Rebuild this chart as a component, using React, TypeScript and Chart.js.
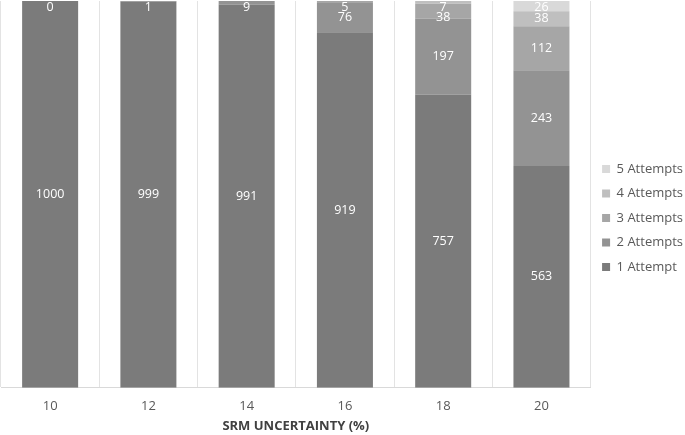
import React, { useEffect, useRef } from 'react';
import { Chart, registerables } from 'chart.js';

Chart.register(...registerables);

const categories = ['10', '12', '14', '16', '18', '20'];
const seriesNames = ['1 Attempt', '2 Attempts', '3 Attempts', '4 Attempts', '5 Attempts'];
const attempt1 = [1000, 999, 991, 919, 757, 563];
const attempt2 = [0, 1, 9, 76, 197, 243];
const attempt3 = [0, 0, 0, 5, 38, 112];
const attempt4 = [0, 0, 0, 0, 7, 38];
const attempt5 = [0, 0, 0, 0, 0, 26];
const colors = ['#7b7b7b', '#939393', '#a6a6a6', '#bfbfbf', '#d9d9d9'];

const FONT = '"Open Sans", "DejaVu Sans", sans-serif';

// labels in the middle of every segment; small ones pushed apart like Excel does
const segmentLabels = {
    id: 'segmentLabels',
    afterDatasetsDraw(chart: any) {
        const ctx = chart.ctx;
        const top = chart.chartArea.top;
        const n = chart.data.labels.length;
        const count = chart.data.datasets.length;
        ctx.save();
        ctx.font = '12.5px ' + FONT;
        ctx.fillStyle = '#ffffff';
        ctx.textAlign = 'center';
        ctx.textBaseline = 'middle';
        for (let i = 0; i < n; i++) {
            let prev = -Infinity;
            for (let di = count - 1; di >= 0; di--) {
                const raw = chart.data.datasets[di].raw[i];
                if (raw === 0 && di > 1) continue;
                const bar = chart.getDatasetMeta(di).data[i];
                const y = Math.max((bar.y + bar.base) / 2, top + 6, prev + 10.5);
                ctx.fillText(String(raw), bar.x, y);
                prev = y;
            }
        }
        ctx.restore();
    },
};

export default function App() {
    const canvasRef = useRef<HTMLCanvasElement | null>(null);
    const chartRef = useRef<Chart | null>(null);

    useEffect(() => {
        if (!canvasRef.current) return;
        if (chartRef.current) chartRef.current.destroy();

        const rows = [attempt1, attempt2, attempt3, attempt4, attempt5];
        const totals = categories.map((_, i) => rows.reduce((s, r) => s + r[i], 0));

        chartRef.current = new Chart(canvasRef.current, {
            type: 'bar',
            data: {
                labels: categories,
                datasets: rows.map((r, k) => ({
                    label: seriesNames[k],
                    data: r.map((v, i) => (v / totals[i]) * 100),
                    raw: r,
                    backgroundColor: colors[k],
                    borderWidth: 0,
                    categoryPercentage: 1,
                    barPercentage: 0.57,
                })) as any,
            },
            options: {
                responsive: false,
                animation: false,
                layout: { padding: { top: 1, left: 1, right: -8, bottom: 0 } },
                scales: {
                    x: {
                        stacked: true,
                        grid: { color: '#e3e3e3', drawTicks: false, offset: true },
                        border: { color: '#d9d9d9' },
                        ticks: { color: '#595959', font: { family: FONT, size: 13 }, padding: 11 },
                        title: {
                            display: true,
                            text: 'SRM UNCERTAINTY (%)',
                            color: '#404040',
                            font: { family: FONT, size: 13, weight: 'bold' },
                            padding: { top: -7, bottom: 1 },
                        },
                    },
                    y: { stacked: true, display: false, min: 0, max: 100 },
                },
                plugins: {
                    tooltip: { enabled: false },
                    legend: {
                        position: 'right',
                        reverse: true,
                        labels: {
                            boxWidth: 8,
                            boxHeight: 8,
                            padding: 11.5,
                            color: '#595959',
                            font: { family: FONT, size: 13 },
                        },
                    },
                },
            },
            plugins: [segmentLabels],
        });

        return () => {
            if (chartRef.current) {
                chartRef.current.destroy();
                chartRef.current = null;
            }
        };
    }, []);

    return (
        <div style={{ position: 'fixed', left: 0, top: 0, width: 685, height: 435, background: '#fff' }}>
            <canvas ref={canvasRef} width={685} height={435}></canvas>
        </div>
    );
}
